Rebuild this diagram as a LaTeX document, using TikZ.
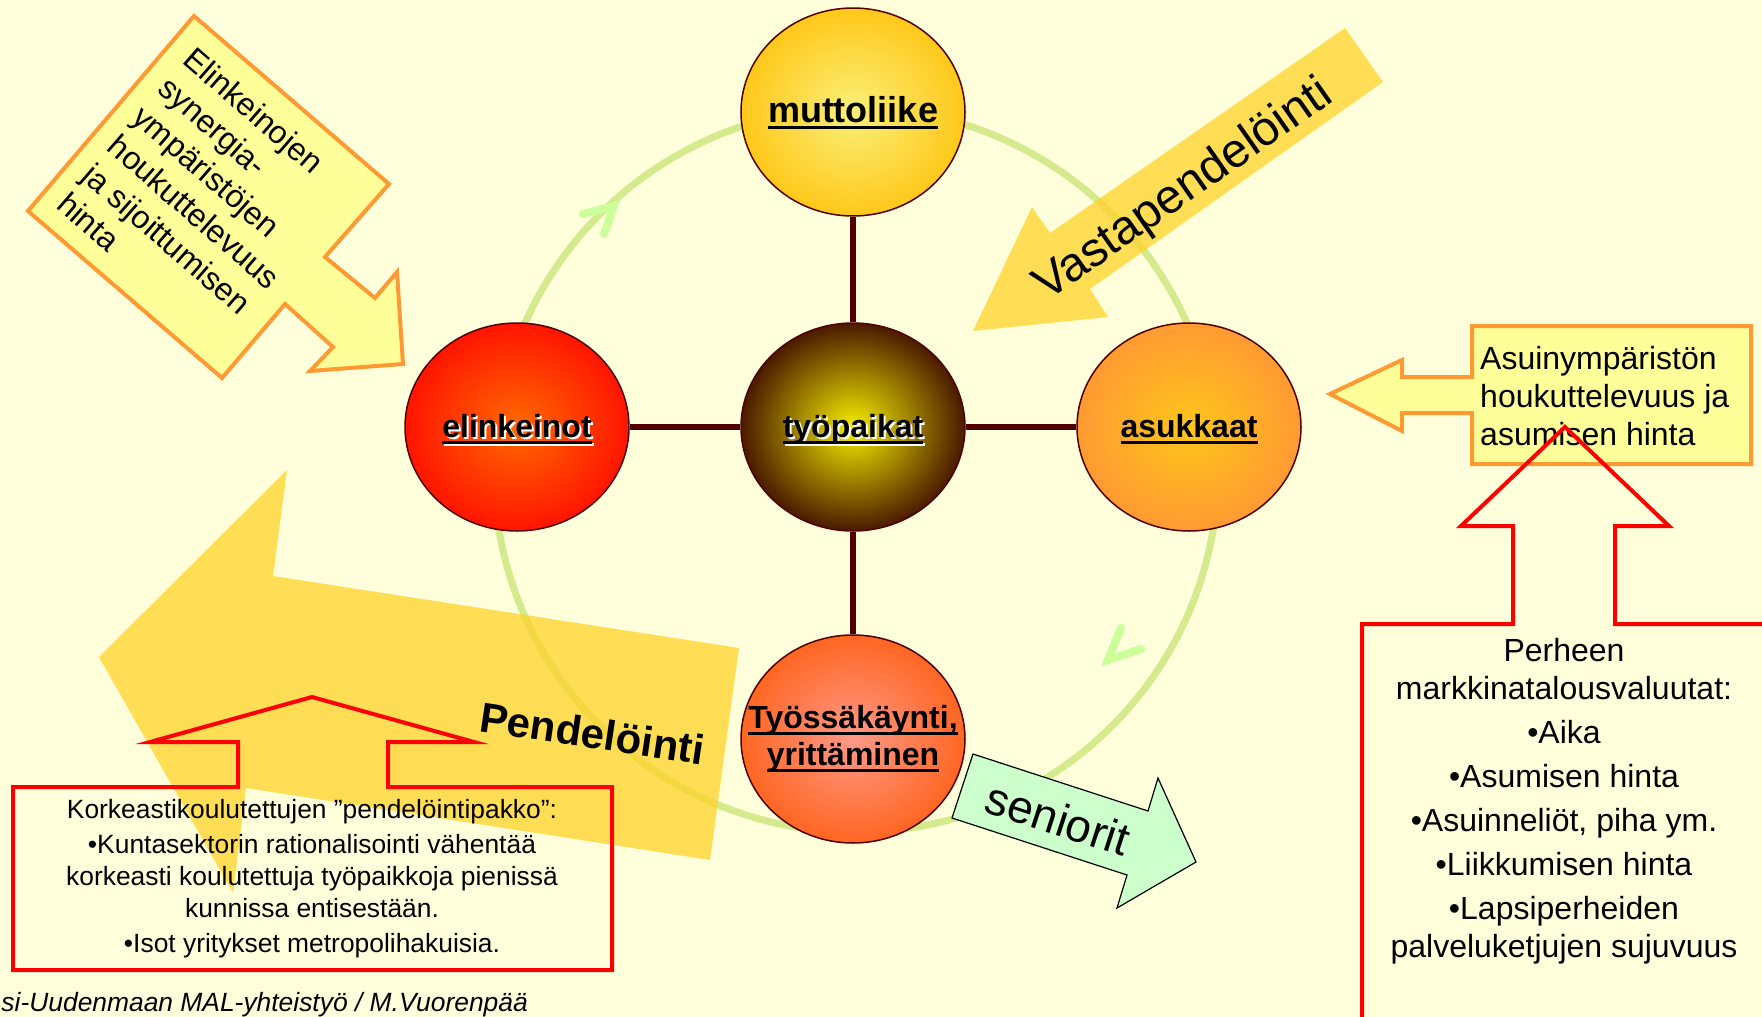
\documentclass[tikz,border=0pt]{standalone}
\usepackage{fontspec}
\setmainfont{Liberation Sans}
\usetikzlibrary{shapes.geometric}

\definecolor{bg}{HTML}{FFFFDB}
\definecolor{ringgreen}{HTML}{D4EA8C}
\definecolor{chevgreen}{HTML}{CCFF99}
\definecolor{flowyellow}{HTML}{FFD228}
\definecolor{calloutline}{HTML}{FF9933}
\definecolor{calloutfill}{HTML}{FFFF99}
\definecolor{maroon}{HTML}{500000}
\definecolor{seniorfill}{HTML}{CCFFCC}
% bubble gradients
\definecolor{muttoin}{HTML}{FAF07A}
\definecolor{muttoout}{HTML}{FFC81A}
\definecolor{tyoin}{HTML}{F5EE00}
\definecolor{tyoout}{HTML}{4A1A00}
\definecolor{elinkin}{HTML}{FF6A00}
\definecolor{elinkout}{HTML}{FF1500}
\definecolor{asukin}{HTML}{FFC61A}
\definecolor{asukout}{HTML}{FF9A33}
\definecolor{tyossain}{HTML}{FF9988}
\definecolor{tyossaout}{HTML}{FF6622}

% underlined label; the rule takes no vertical room
\newcommand\ulx[1]{\setbox0=\hbox{#1}\rlap{\smash{\rule[-6pt]{\wd0}{2.7pt}}}\box0}
% underlined label with a white drop shadow
\newcommand\wshadow[1]{\rlap{\kern2pt\raisebox{-2pt}{\color{white}\ulx{#1}}}\ulx{#1}}

\begin{document}
\begin{tikzpicture}[x=1pt,y=-1pt,
  every node/.style={inner sep=0pt},
  ring/.style={draw=ringgreen, line width=7pt},
  chev/.style={draw=chevgreen, line width=8pt, line cap=round, line join=miter},
  flow/.style={fill=flowyellow, fill opacity=0.75},
  conn/.style={draw=maroon, line width=5.5pt},
  bubble/.style={ellipse, draw=maroon, line width=1.5pt,
    minimum width=224pt, minimum height=208pt,
    font=\bfseries\fontsize{32}{37}\selectfont},
  oneline/.style={text height=21pt, text depth=0pt},
  callout/.style={draw=calloutline, fill=calloutfill, line width=4pt, line join=miter},
  redcall/.style={draw=red, line width=4pt, line join=miter},
  senior/.style={draw=black, fill=seniorfill, line width=1.2pt, line join=miter}]

\useasboundingbox (0,0) rectangle (1762,1017);
\clip (0,0) rectangle (1762,1017);
\fill[bg] (0,0) rectangle (1762,1017);

% circulation ring with its two direction marks
\draw[ring] (856,470) circle[radius=362pt];
\draw[chev] (583,214) -- (614,206) -- (604,234);
\draw[chev] (1121,628) -- (1108,660) -- (1141,649);

% commuting flows
\fill[flow] (99,657) -- (287,470) -- (273,576) -- (739,648) -- (710,860)
  -- (246,788) -- (233,893) -- cycle;
\fill[flow] (973,331) -- (1032,207) -- (1050,233) -- (1345,28) -- (1383,82)
  -- (1090,289) -- (1108,317) -- cycle;
\node[rotate=-8.5, anchor=base, font=\bfseries\fontsize{42}{48}\selectfont]
  (pend) at (590,748) {Pendelöinti};
\node[rotate=35, anchor=base, font=\fontsize{48}{55}\selectfont]
  (vasta) at (1191,201) {Vastapendelöinti};

% central bubbles
\node[bubble, inner color=muttoin, outer color=muttoout] (mutto) at (853,112) {};
\node[oneline, font=\bfseries\fontsize{36}{40}\selectfont] (muttolbl) at (mutto.center)
  {\ulx{muttoliike}};
\node[bubble, oneline, inner color=tyoin, outer color=tyoout] (tyo) at (853,427) {\wshadow{työpaikat}};
\node[bubble, oneline, inner color=elinkin, outer color=elinkout] (elink) at (517,427) {\wshadow{elinkeinot}};
\node[bubble, oneline, inner color=asukin, outer color=asukout] (asuk) at (1189,427) {\ulx{asukkaat}};
\node[bubble, inner color=tyossain, outer color=tyossaout] (tyossa) at (853,739) {};
\node[align=center, font=\bfseries\fontsize{32}{37}\selectfont] (tyossalbl) at (tyossa.center)
  {\ulx{Työssäkäynti,}\\\ulx{yrittäminen}};

\draw[conn] (mutto) -- (tyo);
\draw[conn] (elink) -- (tyo);
\draw[conn] (tyo) -- (asuk);
\draw[conn] (tyo) -- (tyossa);

% business environment callout
\filldraw[callout] (194,16) -- (389,184) -- (325,257) -- (375,298) -- (397,272)
  -- (403,364) -- (310,371) -- (333,347) -- (285,304) -- (222,378) -- (28,211) -- cycle;
\node[rotate=-41, align=left, font=\fontsize{32}{38.5}\selectfont] (syn) at (207,197)
  {Elinkeinojen\\synergia-\\ympäristöjen\\houkuttelevuus\\ja sijoittumisen\\hinta};

% living environment callout
\filldraw[callout] (1472,326) -- (1751,326) -- (1751,464) -- (1472,464) -- (1472,413)
  -- (1402,413) -- (1402,431) -- (1330,394) -- (1402,360) -- (1402,377) -- (1472,377) -- cycle;
\node[anchor=west, align=left, font=\fontsize{32}{38}\selectfont] (asuin) at (1480,396)
  {Asuinympäristön\\houkuttelevuus ja\\asumisen hinta};

% family currencies callout
\draw[redcall] (1362,1040) -- (1362,624) -- (1513,624) -- (1513,526) -- (1461,526)
  -- (1565,427) -- (1669,526) -- (1615,526) -- (1615,624) -- (1790,624) -- (1790,1040) -- cycle;
\node[align=center, font=\fontsize{32}{38}\selectfont] (perh) at (1564,801)
  {Perheen\\markkinatalousvaluutat:\\[6pt]•Aika\\[6pt]•Asumisen hinta\\[6pt]•Asuinneliöt, piha ym.\\[6pt]•Liikkumisen hinta\\[6pt]•Lapsiperheiden\\palveluketjujen sujuvuus};

% forced commuting callout
\draw[redcall] (13,787) -- (238,787) -- (238,742) -- (150,742) -- (312,697) -- (474,742)
  -- (388,742) -- (388,787) -- (612,787) -- (612,970) -- (13,970) -- cycle;
\node[align=center, font=\fontsize{26.4}{32}\selectfont] (pakko) at (312,879)
  {Korkeastikoulutettujen ”pendelöintipakko”:\\[3pt]•Kuntasektorin rationalisointi vähentää\\korkeasti koulutettuja työpaikkoja pienissä\\kunnissa entisestään.\\[3pt]•Isot yritykset metropolihakuisia.};

% seniors leaving
\filldraw[senior] (973,754) -- (1148,811) -- (1158,778) -- (1196,862) -- (1117,908)
  -- (1127,875) -- (952,818) -- cycle;
\node[rotate=-18, anchor=base, font=\fontsize{46}{52}\selectfont] (sen) at (1053,834) {seniorit};

% source line
\node[anchor=base east, font=\itshape\fontsize{26.4}{30}\selectfont] (foot) at (528,1011)
  {si-Uudenmaan MAL-yhteistyö / M.Vuorenpää};

\end{tikzpicture}
\end{document}
